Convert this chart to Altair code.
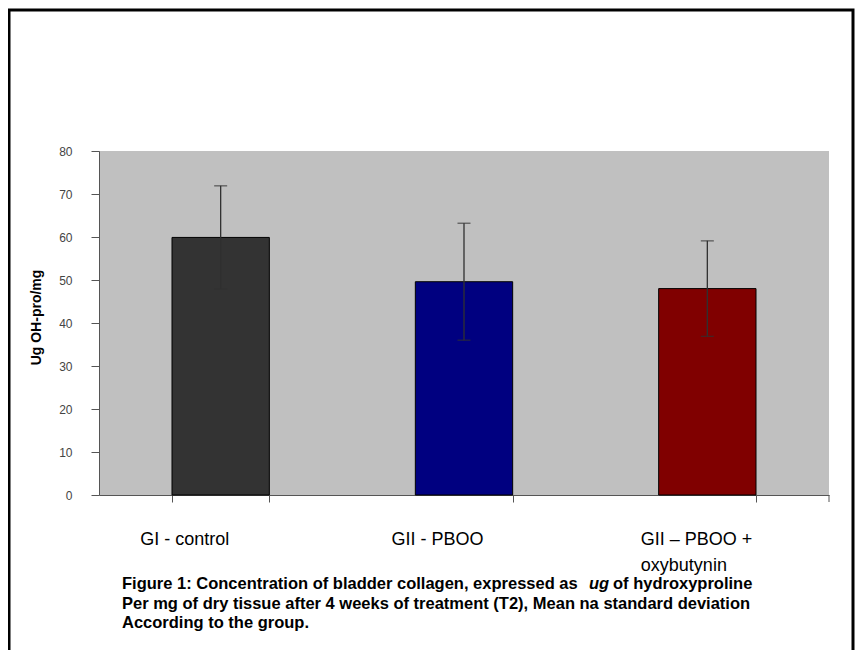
import altair as alt
import pandas as pd

groups = ["GI - control", "GII - PBOO", "GII – PBOO + oxybutynin"]
means = [59.9, 49.6, 48.0]
sds = [12.0, 13.6, 11.1]
colors = ["#333333", "#000080", "#800000"]
y_ticks = [0, 10, 20, 30, 40, 50, 60, 70, 80]
caption_lines = [
    ["Figure 1: Concentration of bladder collagen, expressed as", "ug", "of hydroxyproline"],
    ["Per mg of dry tissue after 4 weeks of treatment (T2), Mean na standard deviation"],
    ["According to the group."],
]

df = pd.DataFrame({"group": groups, "mean": means, "sd": sds})
df["lo"] = df["mean"] - df["sd"]
df["hi"] = df["mean"] + df["sd"]

W, H = 730, 344
FONT = "Liberation Sans"

xenc = alt.X(
    "group:N",
    sort=groups,
    scale=alt.Scale(paddingInner=0.6, paddingOuter=0.3),
    axis=alt.Axis(
        title=None,
        tickBand="extent",
        tickSize=7,
        tickColor="#555555",
        domainColor="#555555",
        labelAngle=0,
        labelFont=FONT,
        labelFontSize=18,
        labelColor="#000000",
        labelAlign="left",
        labelBaseline="top",
        labelPadding=28,
        labelLineHeight=26,
        labelExpr="datum.value == 'GII – PBOO + oxybutynin' ? ['GII – PBOO +', 'oxybutynin'] : datum.label",
        labelOffset={
            "condition": [
                {"test": "datum.value == 'GI - control'", "value": -81},
                {"test": "datum.value == 'GII - PBOO'", "value": -73},
            ],
            "value": -67,
        },
    ),
)

yscale = alt.Scale(domain=[0, 80], nice=False)
yaxis = alt.Axis(
    title="Ug OH-pro/mg",
    values=y_ticks,
    grid=False,
    tickSize=8,
    tickColor="#555555",
    domainColor="#555555",
    labelFont=FONT,
    labelFontSize=12,
    labelColor="#444444",
    labelPadding=19,
    titleFont=FONT,
    titleFontSize=14,
    titleFontWeight="bold",
    titleColor="#000000",
    titleX=-63,
    titleY=166,
    titleAlign="center",
    titleBaseline="middle",
    titleAngle=270,
)

base = alt.Chart(df)

bars = base.mark_bar(stroke="#000000", strokeWidth=1).encode(
    x=xenc,
    y=alt.Y("mean:Q", scale=yscale, axis=yaxis),
    color=alt.Color("group:N", scale=alt.Scale(domain=groups, range=colors), legend=None),
)

err = base.mark_rule(color="#303030", strokeWidth=1.3).encode(
    x=alt.X("group:N", sort=groups),
    y=alt.Y("lo:Q"),
    y2="hi:Q",
)
cap_hi = base.mark_tick(color="#303030", thickness=1.3, size=13, orient="horizontal").encode(
    x=alt.X("group:N", sort=groups), y="hi:Q"
)
cap_lo = base.mark_tick(color="#303030", thickness=1.3, size=13, orient="horizontal").encode(
    x=alt.X("group:N", sort=groups), y="lo:Q"
)

one = alt.Data(values=[{}])

# extra tick at the right end of the x axis (Excel style)
end_tick = alt.Chart(one).mark_rule(color="#555555").encode(
    x=alt.value(W), y=alt.value(H), y2=alt.value(H + 7)
)

# outer frame
frame = alt.Chart(one).mark_rect(fill="transparent", stroke="#000000", strokeWidth=3).encode(
    x=alt.value(-90), x2=alt.value(754), y=alt.value(-141), y2=alt.value(540)
)

# caption
cap_layers = []
cap_specs = [
    (caption_lines[0][0], 23, 433, "normal"),
    (caption_lines[0][1], 490, 433, "italic"),
    (caption_lines[0][2], 514, 433, "normal"),
    (caption_lines[1][0], 23, 453, "normal"),
    (caption_lines[2][0], 23, 472, "normal"),
]
for txt, xx, yy, style in cap_specs:
    cap_layers.append(
        alt.Chart(one).mark_text(
            text=txt, align="left", baseline="middle", font=FONT, fontSize=16.5,
            fontWeight="bold", fontStyle=style, color="#000000",
        ).encode(x=alt.value(xx), y=alt.value(yy))
    )

chart = alt.layer(bars, err, cap_hi, cap_lo, end_tick, frame, *cap_layers).properties(
    width=W,
    height=H,
    autosize=alt.AutoSizeParams(type="none"),
    padding={"left": 91, "top": 143, "right": 26, "bottom": 155},
    background="#ffffff",
).configure_view(fill="#C0C0C0", strokeWidth=0)

chart.save("out.html", embed_options={"renderer": "svg", "actions": False})
